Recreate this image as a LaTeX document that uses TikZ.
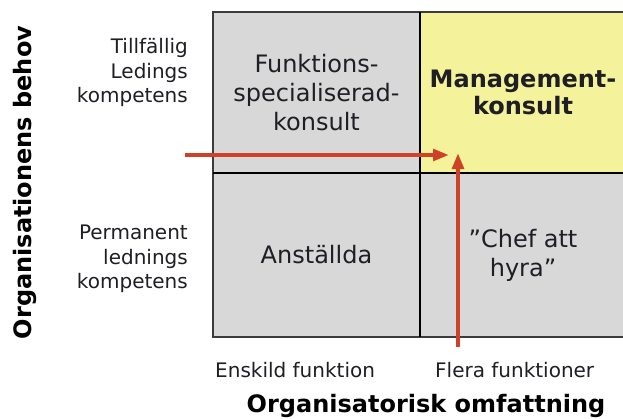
\documentclass[tikz,border=0pt]{standalone}
\usepackage{fontspec}
\setmainfont{DejaVu Sans}
\usetikzlibrary{arrows.meta}
\definecolor{cellgray}{RGB}{216,216,216}
\definecolor{cellyellow}{RGB}{244,242,154}
\definecolor{arrowred}{RGB}{206,66,40}
\definecolor{txt}{RGB}{30,30,36}
\definecolor{bordergray}{RGB}{60,60,60}
\tikzset{
  cell/.style={inner sep=0pt, outer sep=0pt, align=center, text=txt,
    font=\fontsize{24}{29}\selectfont},
  side/.style={inner sep=0pt, align=right, text=txt,
    font=\fontsize{20}{24.5}\selectfont},
  axis/.style={inner sep=0pt, text=txt, font=\fontsize{20}{24}\selectfont},
  title/.style={inner sep=0pt, text=black, font=\fontsize{24}{29}\selectfont\bfseries},
  outerline/.style={draw=bordergray, line width=1.5pt},
  midline/.style={draw=black, line width=2.5pt},
  redarrow/.style={draw=arrowred, line width=4pt,
    -{Triangle[length=16pt,width=11.5pt]}}
}
\begin{document}
\begin{tikzpicture}[x=1pt,y=-1pt]
\useasboundingbox (0,0) rectangle (623,418);
% cells
\node[cell, fill=cellgray, minimum width=207pt, minimum height=161pt] (tl) at (316.5,92.5)
  {Funktions-\\specialiserad-\\konsult};
\node[cell, fill=cellyellow, minimum width=206pt, minimum height=161pt, font=\fontsize{24}{27}\selectfont\bfseries] (tr) at (523,92.5)
  {Management-\\konsult};
\node[cell, fill=cellgray, minimum width=207pt, minimum height=164pt] (bl) at (316.5,255)
  {Anställda};
\node[cell, fill=cellgray, minimum width=206pt, minimum height=164pt] (br) at (523,255)
  {”Chef att\\hyra”};
% grid lines
\draw[outerline] (tr.north east) -- (tl.north west) -- (bl.south west) -- (br.south east);
\draw[midline] (tl.north east) -- (bl.south east);
\draw[midline, line width=1.8pt] (tl.south west) -- (tr.south east);
% side labels
\node[side, anchor=east] (tmp) at (188,72.5) {Tillfällig\\Ledings\\kompetens};
\node[side, anchor=east] (perm) at (188,259) {Permanent\\lednings\\kompetens};
% axis labels
\node[axis, anchor=base west] (ens) at (215,377) {Enskild funktion};
\node[axis, anchor=base west] (fle) at (435,377) {Flera funktioner};
\node[title, anchor=base] (xt) at (426,412) {Organisatorisk omfattning};
\node[title, anchor=base, rotate=90] (yt) at (31,182.5) {Organisationens behov};
% arrows
\coordinate (hs) at (185,155);
\coordinate (ht) at (449,155);
\coordinate (vs) at (458,347);
\coordinate (vt) at (458,153);
\draw[redarrow] (hs) -- (ht);
\draw[redarrow] (vs) -- (vt);
\end{tikzpicture}
\end{document}
